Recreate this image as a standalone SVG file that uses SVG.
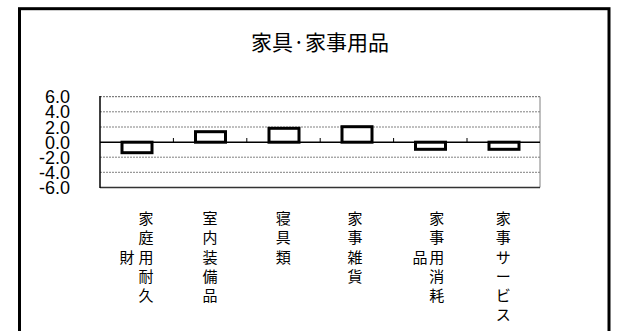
<svg xmlns="http://www.w3.org/2000/svg" width="622" height="331" viewBox="0 0 622 331">
<style>
.frame{fill:#fff;stroke:#000;stroke-width:3}
.grid{stroke:#808080;stroke-width:1;stroke-dasharray:2 1}
.axis{stroke:#000;stroke-width:1.5}
.bar{fill:#fff;stroke:#000;stroke-width:3}
.ylab{font-family:"Liberation Sans",Arial,sans-serif;font-size:18px;fill:#000;text-anchor:end}
.title{font-family:"Noto Sans CJK JP","Noto Sans CJK SC",sans-serif;font-size:21px;fill:#000;text-anchor:middle}
.cat{font-family:"Noto Sans CJK JP","Noto Sans CJK SC",sans-serif;font-size:15px;fill:#000;text-anchor:middle}
</style>
<rect class="frame" x="19.5" y="8.7" width="589.5" height="330"/>
<text class="title" x="320" y="49.5">家具·家事用品</text>
<g id="plot">
<line class="grid" x1="100" y1="96.7" x2="540" y2="96.7" style="stroke:#606060"/>
<line class="grid" x1="100" y1="111.8" x2="540" y2="111.8"/>
<line class="grid" x1="100" y1="127" x2="540" y2="127"/>
<line class="grid" x1="100" y1="157.2" x2="540" y2="157.2"/>
<line class="grid" x1="100" y1="172.3" x2="540" y2="172.3"/>
<line x1="540" y1="96.7" x2="540" y2="187.4" stroke="#808080" stroke-width="1"/>
<line class="axis" x1="100" y1="187.4" x2="540" y2="187.4" style="stroke:#333"/>
<line class="axis" x1="100" y1="96" x2="100" y2="188"/>
</g>
<g id="yaxis">
<text class="ylab" x="70" y="103.2">6.0</text>
<text class="ylab" x="70" y="118.3">4.0</text>
<text class="ylab" x="70" y="133.5">2.0</text>
<text class="ylab" x="70" y="148.6">0.0</text>
<text class="ylab" x="70" y="163.7">-2.0</text>
<text class="ylab" x="70" y="178.8">-4.0</text>
<text class="ylab" x="70" y="193.9">-6.0</text>
</g>
<g id="bars">
<rect class="bar" x="122" y="142.2" width="30" height="10.5"/>
<rect class="bar" x="195.5" y="131.7" width="30" height="10.5"/>
<rect class="bar" x="269" y="128.3" width="30" height="13.9"/>
<rect class="bar" x="342" y="126.7" width="30" height="15.5"/>
<rect class="bar" x="415.5" y="142.2" width="30" height="7.1"/>
<rect class="bar" x="489" y="142.2" width="30" height="7.1"/>
</g>
<g id="connectors">
<line class="axis" x1="100" y1="142.2" x2="540" y2="142.2"/>
<g stroke="#000" stroke-width="1">
<line x1="173.4" y1="138" x2="173.4" y2="142.2"/>
<line x1="246.8" y1="138" x2="246.8" y2="142.2"/>
<line x1="320.2" y1="138" x2="320.2" y2="142.2"/>
<line x1="393.6" y1="138" x2="393.6" y2="142.2"/>
<line x1="467" y1="138" x2="467" y2="142.2"/>
</g>
</g>
<g id="cat1">
<text class="cat" x="146" y="224">家</text>
<text class="cat" x="146" y="243.3">庭</text>
<text class="cat" x="146" y="262.5">用</text>
<text class="cat" x="146" y="281.5">耐</text>
<text class="cat" x="146" y="300.5">久</text>
<text class="cat" x="127" y="262.5">財</text>
</g>
<g id="cat2">
<text class="cat" x="210" y="224">室</text>
<text class="cat" x="210" y="243.3">内</text>
<text class="cat" x="210" y="262.5">装</text>
<text class="cat" x="210" y="281.5">備</text>
<text class="cat" x="210" y="300.5">品</text>
</g>
<g id="cat3">
<text class="cat" x="283.3" y="224">寝</text>
<text class="cat" x="283.3" y="243.3">具</text>
<text class="cat" x="283.3" y="262.5">類</text>
</g>
<g id="cat4">
<text class="cat" x="355" y="224">家</text>
<text class="cat" x="355" y="243.3">事</text>
<text class="cat" x="355" y="262.5">雑</text>
<text class="cat" x="355" y="281.5">貨</text>
</g>
<g id="cat5">
<text class="cat" x="436.7" y="224">家</text>
<text class="cat" x="436.7" y="243.3">事</text>
<text class="cat" x="436.7" y="262.5">用</text>
<text class="cat" x="436.7" y="281.5">消</text>
<text class="cat" x="436.7" y="300.5">耗</text>
<text class="cat" x="420" y="262.5">品</text>
</g>
<g id="cat6">
<text class="cat" x="503.3" y="224">家</text>
<text class="cat" x="503.3" y="243.3">事</text>
<text class="cat" x="503.3" y="262.5">サ</text>
<text class="cat" x="503.3" y="281.5">ー</text>
<text class="cat" x="503.3" y="300.5">ビ</text>
<text class="cat" x="503.3" y="319.5">ス</text>
</g>
</svg>
